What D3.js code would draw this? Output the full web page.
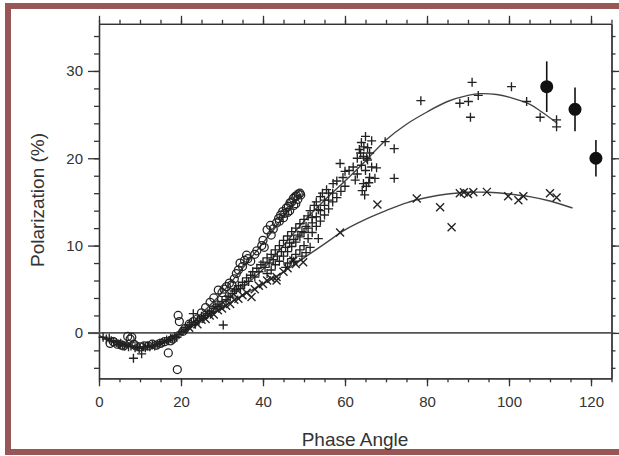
<!DOCTYPE html>
<html>
<head>
<meta charset="utf-8" />
<title>Polarization vs Phase Angle</title>
<style>
  body { margin: 0; background: #fff; }
  text { font-family: "Liberation Sans", Arial, sans-serif; fill: #333; }
</style>
</head>
<body>
<script src="https://d3js.org/d3.v7.min.js"></script>
<script>

// open circles [phase, polarization]
var circlePts = [[2.7,-1.2],[3.5,-1.0],[4.5,-1.3],[5.5,-1.4],[6,-1.5],[7,-0.4],[7.6,-0.7],[8,-0.5],[8.5,-1.3],
  [9,-1.5],[10,-1.6],[11,-1.5],[12,-1.5],[13,-1.3],[14,-1.4],[15,-1.2],[16,-1.0],[16.9,-2.3],[17.5,-0.9],[18,-0.7],
  [19.1,-4.2],[19.3,2.0],[19.6,1.3],[20.5,0.2],[21,0.5],[22,1.0],[23,1.3],[24,1.6],[25,2.3],[26,2.9],[27.1,3.5],
  [28,4.0],[29.1,4.9],[30,4.6],[31.1,5.3],[31.8,5.7],[32.4,5.5],[33,6.2],[33.5,6.8],[34.4,8.0],[35,7.6],[35.5,8.3],
  [36.3,8.5],[37,8.2],[38,9.0],[39.7,10.0],[40,10.6],[40.3,9.8],[41,11.8],[41.8,12.3],[42.5,11.9],[43.3,12.6],
  [43.8,13.1],[44.3,13.5],[44.8,13.9],[45.3,13.7],[45.7,14.3],[46.2,14.5],[46.6,14.9],[47,15.0],[47.4,15.4],
  [47.8,15.6],[48.2,15.7],[48.6,15.9],[49,16.0],[48.5,15.3],[47.5,14.6],[46,13.8],[49.2,15.8],[45,13.2],
  [44,12.8],[46.5,14.0],[48,14.8],[42,11.2],[38.5,9.4],[36,8.9],[34,7.2],[30.5,5.0]];

// plus markers
var plusPts = [[1,-0.5],[1.8,-0.7],[2.5,-0.6],[3,-0.9],[3.6,-1.0],[4.2,-1.1],[4.8,-1.3],[5.3,-1.2],[5.8,-1.4],
  [6.3,-1.5],[6.8,-1.3],[7.2,-1.6],[7.8,-1.5],[8.4,-2.9],[8.8,-1.7],[9.3,-1.6],[9.8,-1.8],[10.4,-2.4],[10.8,-1.6],
  [11.3,-1.7],[11.8,-1.5],[12.4,-1.6],[13,-1.4],[13.6,-1.5],[14.2,-1.3],[14.8,-1.2],[15.4,-1.1],[16,-1.0],
  [16.5,-0.8],[17,-0.9],[17.5,-0.6],[18,-0.7],[18.5,-0.4],[19,-0.5],[19.5,-0.2],[20,0.1],[20.5,0.2],[21,0.4],
  [21.5,0.6],[22,0.9],[22.5,1.2],[23,2.2],[23.5,1.0],[24,1.4],[24.5,1.6],[25,1.9],[25.5,1.7],[26,2.0],[26.5,2.2],
  [27,2.5],[27.5,2.4],[28,2.8],[28.5,3.0],[29,3.3],[30.3,0.9],[29.5,3.1],[30,3.6],[31,3.8],[31.5,4.2],[32,4.1],
  [32.5,4.5],[33,4.8],[33.5,5.0],[34,5.4],[34.5,5.1],[35,5.8],[35.5,5.5],[36,6.3],[36.5,5.9],[37,6.6],[37.5,7.0],
  [38,6.4],[38.5,7.4],[39,7.0],[39.5,7.8],[40,8.1],[40.5,7.5],[41,8.6],[41.5,8.0],[42,9.0],[42.5,8.4],[43,9.5],
  [43.5,8.8],[44,10.0],[44.5,9.3],[45,10.6],[45.5,9.8],[46,11.1],[46.5,10.3],[47,11.6],[47.5,10.7],[48,12.0],
  [48.5,11.2],[49,12.5],[49.5,11.6],[50,13.0],[50.5,12.2],[51,13.4],[51.5,14.0],[52,13.2],[52.5,14.6],[53,15.0],
  [53.5,14.1],[54,15.6],[54.5,16.0],[55,15.2],[55.5,16.4],[56,16.0],[57.1,17.1],[58,17.4],[58.8,19.4],[59.5,17.8],
  [46,8.0],[47,8.5],[48,9.0],[49,9.5],[50,10.0],[50.5,9.2],[51,10.8],[52,11.5],[53,12.2],[54,12.8],[55,13.5],
  [56,14.2],[57,15.0],[58,15.5],[59,16.2],[60,16.8],
  [41,6.8],[42,7.2],[43,7.8],[44,8.2],[45,8.8],[46,9.3],[47,9.9],[48,10.4],[49,11.0],[50,11.5],[51,12.0],
  [52,12.6],[53,13.3],[54,14.0],[55,14.6],[56,15.2],[57,16.0],[45.5,7.5],[47.5,8.2],[49.5,8.8],[51.5,9.8],[53.5,10.8],
  [60,18.5],[61,18.6],[62,19.0],[62.5,17.5],[63,20.0],[63,18.2],[63.5,21.0],[64,19.2],[64,21.8],[64.5,20.2],
  [64.5,17.1],[65,22.5],[65,18.6],[65.5,21.2],[65.5,19.8],[66,20.6],[66,17.8],[66.5,22.0],[66.5,19.0],[67.3,17.7],
  [64.2,16.3],[64.8,15.8],[65.2,16.8],[65.8,17.2],[64.6,21.3],[65.3,20.0],[63.8,20.6],
  [67.7,18.9],[69.8,21.9],[72,21.1],[72,17.7],[78.5,26.6],[88,26.3],[90.1,26.5],[91,28.7],[90.6,24.7],[92.5,27.2],
  [100.6,28.2],[104.3,26.5],[107.6,24.7],[111.6,24.4],[111.6,23.6]];

// cross markers
var crossPts = [[22,0.6],[24,1.0],[25,1.5],[26,1.6],[27,2.0],[28,2.1],[29,2.6],[30,2.8],[31,3.1],[32,3.3],
  [33,3.8],[34,3.9],[35,4.3],[36,4.6],[37.2,4.1],[38,5.0],[39,5.4],[40,5.6],[41,6.0],[42,6.2],[43.3,6.0],
  [43.3,6.4],[45,7.0],[46,7.4],[47.4,8.3],[48,7.9],[49.8,8.1],[58.8,11.5],[67.9,14.7],[77.5,15.4],[83.2,14.4],
  [86,12.1],[88,16.0],[89,16.1],[90,15.9],[91.3,16.1],[94.6,16.15],[99.8,15.65],[102.3,15.2],[103.5,15.65],
  [110,16.0],[111.6,15.5]];

// filled points with error bars [phase, polarization, error]
var dotPts = [[109.2,28.2,2.9],[116.1,25.6,2.5],[121.2,20.0,2.1]];

// fitted curves
var curveCircle = [[0,-0.3],[5,-1.2],[10,-1.6],[15,-1.2],[20,0],[25,2.2],[30,4.6],[35,7.4],[40,10.3],[45,13.3],[49,15.9]];
var curvePlus = [[0,-0.3],[5,-1.2],[10,-1.6],[15,-1.2],[20,0],[25,1.6],[30,3.4],[35,5.2],[40,7.3],[45,10.0],
  [50,12.8],[55,15.2],[60,17.4],[65,19.7],[70,22.1],[75,23.9],[80,25.3],[85,26.5],[90,27.2],[93,27.4],[97,27.3],
  [100,27.0],[105,26.2],[108,25.3],[111.5,24.1]];
var curveCross = [[20,0],[25,1.4],[30,2.9],[35,4.3],[40,5.6],[45,7.0],[50,8.6],[55,10.2],[60,11.8],[65,13.0],
  [70,14.0],[75,14.9],[80,15.5],[85,15.9],[90,16.1],[95,16.1],[100,15.9],[105,15.6],[110,15.1],[115.5,14.3]];

var xMajor = [0,20,40,60,80,100,120];
var yMajor = [0,10,20,30];

var width = 619, height = 456;
var svg = d3.select("body").append("svg")
            .attr("width", width)
            .attr("height", height);

// brown frame
svg.append("rect")
   .attr("x", 8).attr("y", 6)
   .attr("width", 700).attr("height", 446)
   .attr("fill", "#fff")
   .attr("stroke", "#985656")
   .attr("stroke-width", 6);

var x = d3.scaleLinear().domain([0,125]).range([99,611.5]);
var y = d3.scaleLinear().domain([-5.2,35.4]).range([378.3,23.8]);

var xMinor = d3.range(0,126,5);
var yMinor = d3.range(-4,35,2);

function drawAxis(axisFn, scale, values, size, tx, ty, labels){
    var a = axisFn(scale).tickValues(values).tickSizeInner(size).tickSizeOuter(0);
    if(!labels) a.tickFormat("");
    var g = svg.append("g")
               .attr("transform","translate("+tx+","+ty+")")
               .call(a);
    g.selectAll("path,line").attr("stroke","#333").attr("stroke-width",1.3);
    g.selectAll("text").attr("font-size",15).style("fill","#333");
    return g;
}

var y0 = y.range()[0], y1 = y.range()[1];
var x0 = x.range()[0], x1 = x.range()[1];

drawAxis(d3.axisBottom, x, xMinor, 4, 0, y0, false);
var bx = drawAxis(d3.axisBottom, x, xMajor, 8, 0, y0, true);
bx.selectAll("text").attr("dy","1.2em");
drawAxis(d3.axisTop, x, xMinor, 4, 0, y1, false);
drawAxis(d3.axisTop, x, xMajor, 8, 0, y1, false);
drawAxis(d3.axisLeft, y, yMinor, 5, x0, 0, false);
var ly = drawAxis(d3.axisLeft, y, yMajor, 11, x0, 0, true);
ly.selectAll("text").attr("x",-16);
drawAxis(d3.axisRight, y, yMinor, 4, x1, 0, false);
drawAxis(d3.axisRight, y, yMajor, 8, x1, 0, false);

// zero line
svg.append("line")
   .attr("x1", x0 - 11).attr("x2", x1)
   .attr("y1", y(0)).attr("y2", y(0))
   .attr("stroke","#555").attr("stroke-width",1.6);

// curves
var line = d3.line().x(d => x(d[0])).y(d => y(d[1])).curve(d3.curveCatmullRom);
[curveCircle, curvePlus, curveCross].forEach(function(c){
    svg.append("path")
       .attr("d", line(c))
       .attr("fill","none")
       .attr("stroke","#444")
       .attr("stroke-width",1.4);
});

// markers
svg.append("g").selectAll("circle")
   .data(circlePts).enter().append("circle")
   .attr("cx", d => x(d[0])).attr("cy", d => y(d[1]))
   .attr("r", 4)
   .attr("fill","none").attr("stroke","#222").attr("stroke-width",1.25);

svg.append("g").selectAll("path")
   .data(plusPts).enter().append("path")
   .attr("transform", d => "translate("+x(d[0])+","+y(d[1])+")")
   .attr("d","M-4.5,0H4.5M0,-4.5V4.5")
   .attr("stroke","#222").attr("stroke-width",1.35);

svg.append("g").selectAll("path")
   .data(crossPts).enter().append("path")
   .attr("transform", d => "translate("+x(d[0])+","+y(d[1])+")")
   .attr("d","M-4,-4L4,4M-4,4L4,-4")
   .attr("stroke","#222").attr("stroke-width",1.35);

var dots = svg.append("g");
dots.selectAll("line")
    .data(dotPts).enter().append("line")
    .attr("x1", d => x(d[0])).attr("x2", d => x(d[0]))
    .attr("y1", d => y(d[1]-d[2])).attr("y2", d => y(d[1]+d[2]))
    .attr("stroke","#111").attr("stroke-width",1.6);
dots.selectAll("circle")
    .data(dotPts).enter().append("circle")
    .attr("cx", d => x(d[0])).attr("cy", d => y(d[1]))
    .attr("r", 6.5).attr("fill","#111");

// axis titles
svg.append("text")
   .attr("x", 355).attr("y", 446)
   .attr("text-anchor","middle")
   .attr("font-size",19)
   .text("Phase Angle");

svg.append("text")
   .attr("transform","translate(44,200) rotate(-90)")
   .attr("text-anchor","middle")
   .attr("font-size",19)
   .text("Polarization (%)");

</script>
</body>
</html>
